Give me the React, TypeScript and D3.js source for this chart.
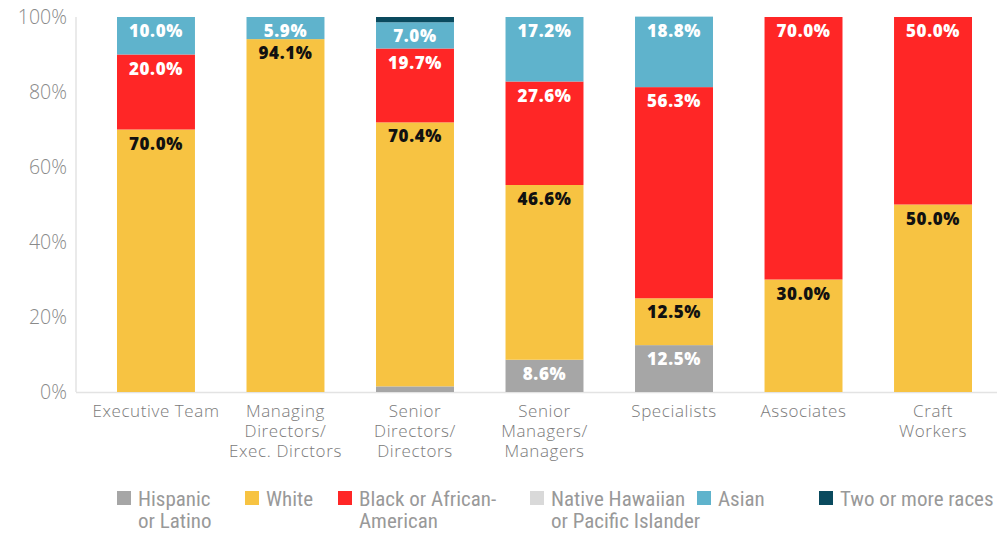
import React from "react";
import * as d3 from "d3";

const categories = [
  ["Executive Team"],
  ["Managing", "Directors/", "Exec. Dirctors"],
  ["Senior", "Directors/", "Directors"],
  ["Senior", "Managers/", "Managers"],
  ["Specialists"],
  ["Associates"],
  ["Craft", "Workers"],
];
const seriesNames = [
  ["Hispanic", "or Latino"],
  ["White"],
  ["Black or African-", "American"],
  ["Native Hawaiian", "or Pacific Islander"],
  ["Asian"],
  ["Two or more races"],
];
const colors = ["#a6a6a6", "#f7c342", "#ff2626", "#d9d9d9", "#5fb3cc", "#0a4a5e"];
const labelColors = ["#fff", "#111", "#fff", "#111", "#fff", "#fff"];
const hispanic = [0, 0, 1.5, 8.6, 12.5, 0, 0];
const white = [70.0, 94.1, 70.4, 46.6, 12.5, 30.0, 50.0];
const black = [20.0, 0, 19.7, 27.6, 56.3, 70.0, 50.0];
const native = [0, 0, 0, 0, 0, 0, 0];
const asian = [10.0, 5.9, 7.0, 17.2, 18.8, 0, 0];
const twoOrMore = [0, 0, 1.4, 0, 0, 0, 0];
const showLabel = [
  [false, false, false, true, true, false, false],
  [true, true, true, true, true, true, true],
  [true, false, true, true, true, true, true],
  [false, false, false, false, false, false, false],
  [true, true, true, true, true, false, false],
  [false, false, false, false, false, false, false],
];
const yTicks = [0, 20, 40, 60, 80, 100];
const legendX = [117, 245, 338, 530, 697, 819];

export default function App() {
  const series = [hispanic, white, black, native, asian, twoOrMore];
  const x = d3.scaleBand<number>().domain(d3.range(categories.length)).range([117, 972]).paddingInner(0.398).paddingOuter(0);
  const y = d3.scaleLinear().domain([0, 100]).range([392, 17]);
  const bw = x.bandwidth();
  const segs: any[] = [];
  categories.forEach((_, ci) => {
    let acc = 0;
    series.forEach((s, si) => {
      const v = s[ci];
      const y0 = acc;
      acc += v;
      if (v > 0) segs.push({ ci, si, v, y0, y1: acc });
    });
  });
  return (
    <svg width={997} height={534} style={{ position: "absolute", left: 0, top: 0, background: "#fff" }}>
      <line x1={76} x2={76} y1={17} y2={392} stroke="#e3e3e3" strokeWidth={1.5} />
      <line x1={76} x2={997} y1={392.5} y2={392.5} stroke="#e3e3e3" strokeWidth={1.5} />
      {yTicks.map((t) => (
        <text key={t} x={67} y={y(t) + 7} textAnchor="end" fontFamily="'Open Sans'" fontWeight={300} fontSize={19.5} fill="#8a8a8a">
          {t}%
        </text>
      ))}
      {segs.map((s, i) => (
        <rect key={i} x={x(s.ci)} width={bw} y={y(s.y1)} height={y(s.y0) - y(s.y1)} fill={colors[s.si]} />
      ))}
      {segs
        .filter((s) => showLabel[s.si][s.ci])
        .map((s, i) => (
          <text key={"l" + i} x={x(s.ci)! + bw / 2} y={y(s.y1) + 20} textAnchor="middle" fontFamily="'Open Sans'" fontWeight={800} fontSize={17} letterSpacing={0.6} fill={labelColors[s.si]}>
            {s.v.toFixed(1)}%
          </text>
        ))}
      {categories.map((lines, ci) => (
        <text key={"c" + ci} x={x(ci)! + bw / 2} textAnchor="middle" fontFamily="'Open Sans'" fontWeight={300} fontSize={17} letterSpacing={0.6} fill="#7a7a7a">
          {lines.map((l, li) => (
            <tspan key={li} x={x(ci)! + bw / 2} y={417 + li * 20}>{l}</tspan>
          ))}
        </text>
      ))}
      {seriesNames.map((lines, si) => (
        <g key={"g" + si}>
          <rect x={legendX[si]} y={491} width={14} height={14} fill={colors[si]} />
          <text fontFamily="'Liberation Sans Narrow', 'Roboto Condensed', sans-serif" fontSize={21} fill="#999">
            {lines.map((l, li) => (
              <tspan key={li} x={legendX[si] + 21} y={506 + li * 22}>{l}</tspan>
            ))}
          </text>
        </g>
      ))}
    </svg>
  );
}
